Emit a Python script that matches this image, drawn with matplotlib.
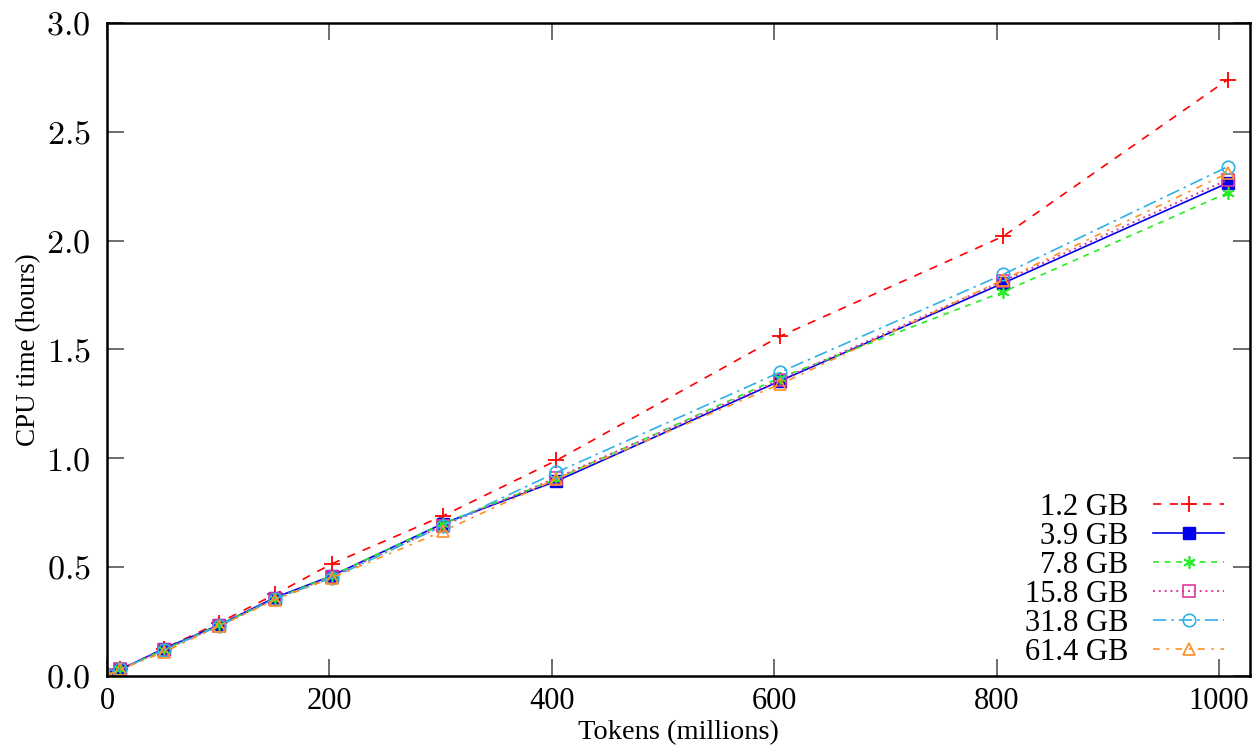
import matplotlib.pyplot as plt
from matplotlib.ticker import FuncFormatter

plt.rcParams['font.family'] = ['Liberation Serif', 'DejaVu Serif']
plt.rcParams['mathtext.fontset'] = 'cm'
plt.rcParams['font.size'] = 20

# tokens (millions) at which each run was measured
tokens = [1, 12, 51, 101, 151, 202, 302, 404, 605, 806, 1008]

# CPU time (hours) per memory budget
cpu_1_2 = [0.005, 0.03, 0.125, 0.245, 0.375, 0.515, 0.735, 0.99, 1.56, 2.02, 2.74]
cpu_3_9 = [0.005, 0.03, 0.125, 0.235, 0.36, 0.46, 0.70, 0.895, 1.355, 1.805, 2.265]
cpu_7_8 = [0.005, 0.03, 0.12, 0.235, 0.355, 0.46, 0.70, 0.905, 1.37, 1.765, 2.22]
cpu_15_8 = [0.005, 0.03, 0.12, 0.23, 0.355, 0.455, 0.69, 0.91, 1.36, 1.815, 2.28]
cpu_31_8 = [0.005, 0.03, 0.12, 0.23, 0.355, 0.45, 0.69, 0.935, 1.395, 1.845, 2.34]
cpu_61_4 = [0.005, 0.03, 0.11, 0.23, 0.35, 0.45, 0.665, 0.905, 1.34, 1.82, 2.31]

labels = ['1.2 GB', '3.9 GB', '7.8 GB', '15.8 GB', '31.8 GB', '61.4 GB']

fig = plt.figure(figsize=(12.52, 7.48), dpi=100)
ax = fig.add_axes([0.0855, 0.0963, 0.913, 0.8730])

ax.plot(tokens, cpu_1_2, color='#ff0000', linestyle=(0, (5, 5)), lw=1.2,
        marker='+', markersize=11, markeredgewidth=1.3, label=labels[0])
ax.plot(tokens, cpu_3_9, color='#0000ee', linestyle='-', lw=1.2,
        marker='s', markersize=8, label=labels[1])
ax.plot(tokens, cpu_7_8, color='#22ee22', linestyle=(0, (3.5, 3.5)), lw=1.2,
        marker=(6, 2, 0), markersize=9, markeredgewidth=1.2, label=labels[2])
ax.plot(tokens, cpu_15_8, color='#e0389a', linestyle=(0, (1, 2)), lw=1.4,
        marker='s', markersize=9, markerfacecolor='none', markeredgewidth=1.2,
        label=labels[3])
ax.plot(tokens, cpu_31_8, color='#30b0e8', linestyle=(0, (8, 3, 1.5, 3)), lw=1.2,
        marker='o', markersize=9, markerfacecolor='none', markeredgewidth=1.2,
        label=labels[4])
ax.plot(tokens, cpu_61_4, color='#ff9022', linestyle=(0, (4, 4, 1.5, 4)), lw=1.2,
        marker='^', markersize=8, markerfacecolor='none', markeredgewidth=1.2,
        label=labels[5])

ax.set_xlim(0, 1028)
ax.set_ylim(0, 3.0)
ax.set_xticks([0, 200, 400, 600, 800, 1000])
ax.set_yticks([0, 0.5, 1.0, 1.5, 2.0, 2.5, 3.0])
ax.yaxis.set_major_formatter(FuncFormatter(lambda v, p: '$%.1f$' % v))
ax.tick_params(direction='in', length=12, width=1.2, color='#555555',
               top=True, right=True, pad=8)
ax.tick_params(axis='x', labelsize=22)
ax.tick_params(axis='y', labelsize=24.5, pad=12)
for side in ax.spines.values():
    side.set_linewidth(1.8)

ax.set_xlabel('Tokens (millions)', fontsize=20.5, labelpad=3)
ax.set_ylabel('CPU time (hours)', fontsize=19.5, labelpad=4)

ax.legend(loc='lower right', bbox_to_anchor=(0.988, -0.005), frameon=False,
          markerfirst=False, handlelength=2.33, handletextpad=0.8,
          labelspacing=0.0, fontsize=22, borderaxespad=0.0, borderpad=0.4)

fig.savefig('out.png', dpi=100)
